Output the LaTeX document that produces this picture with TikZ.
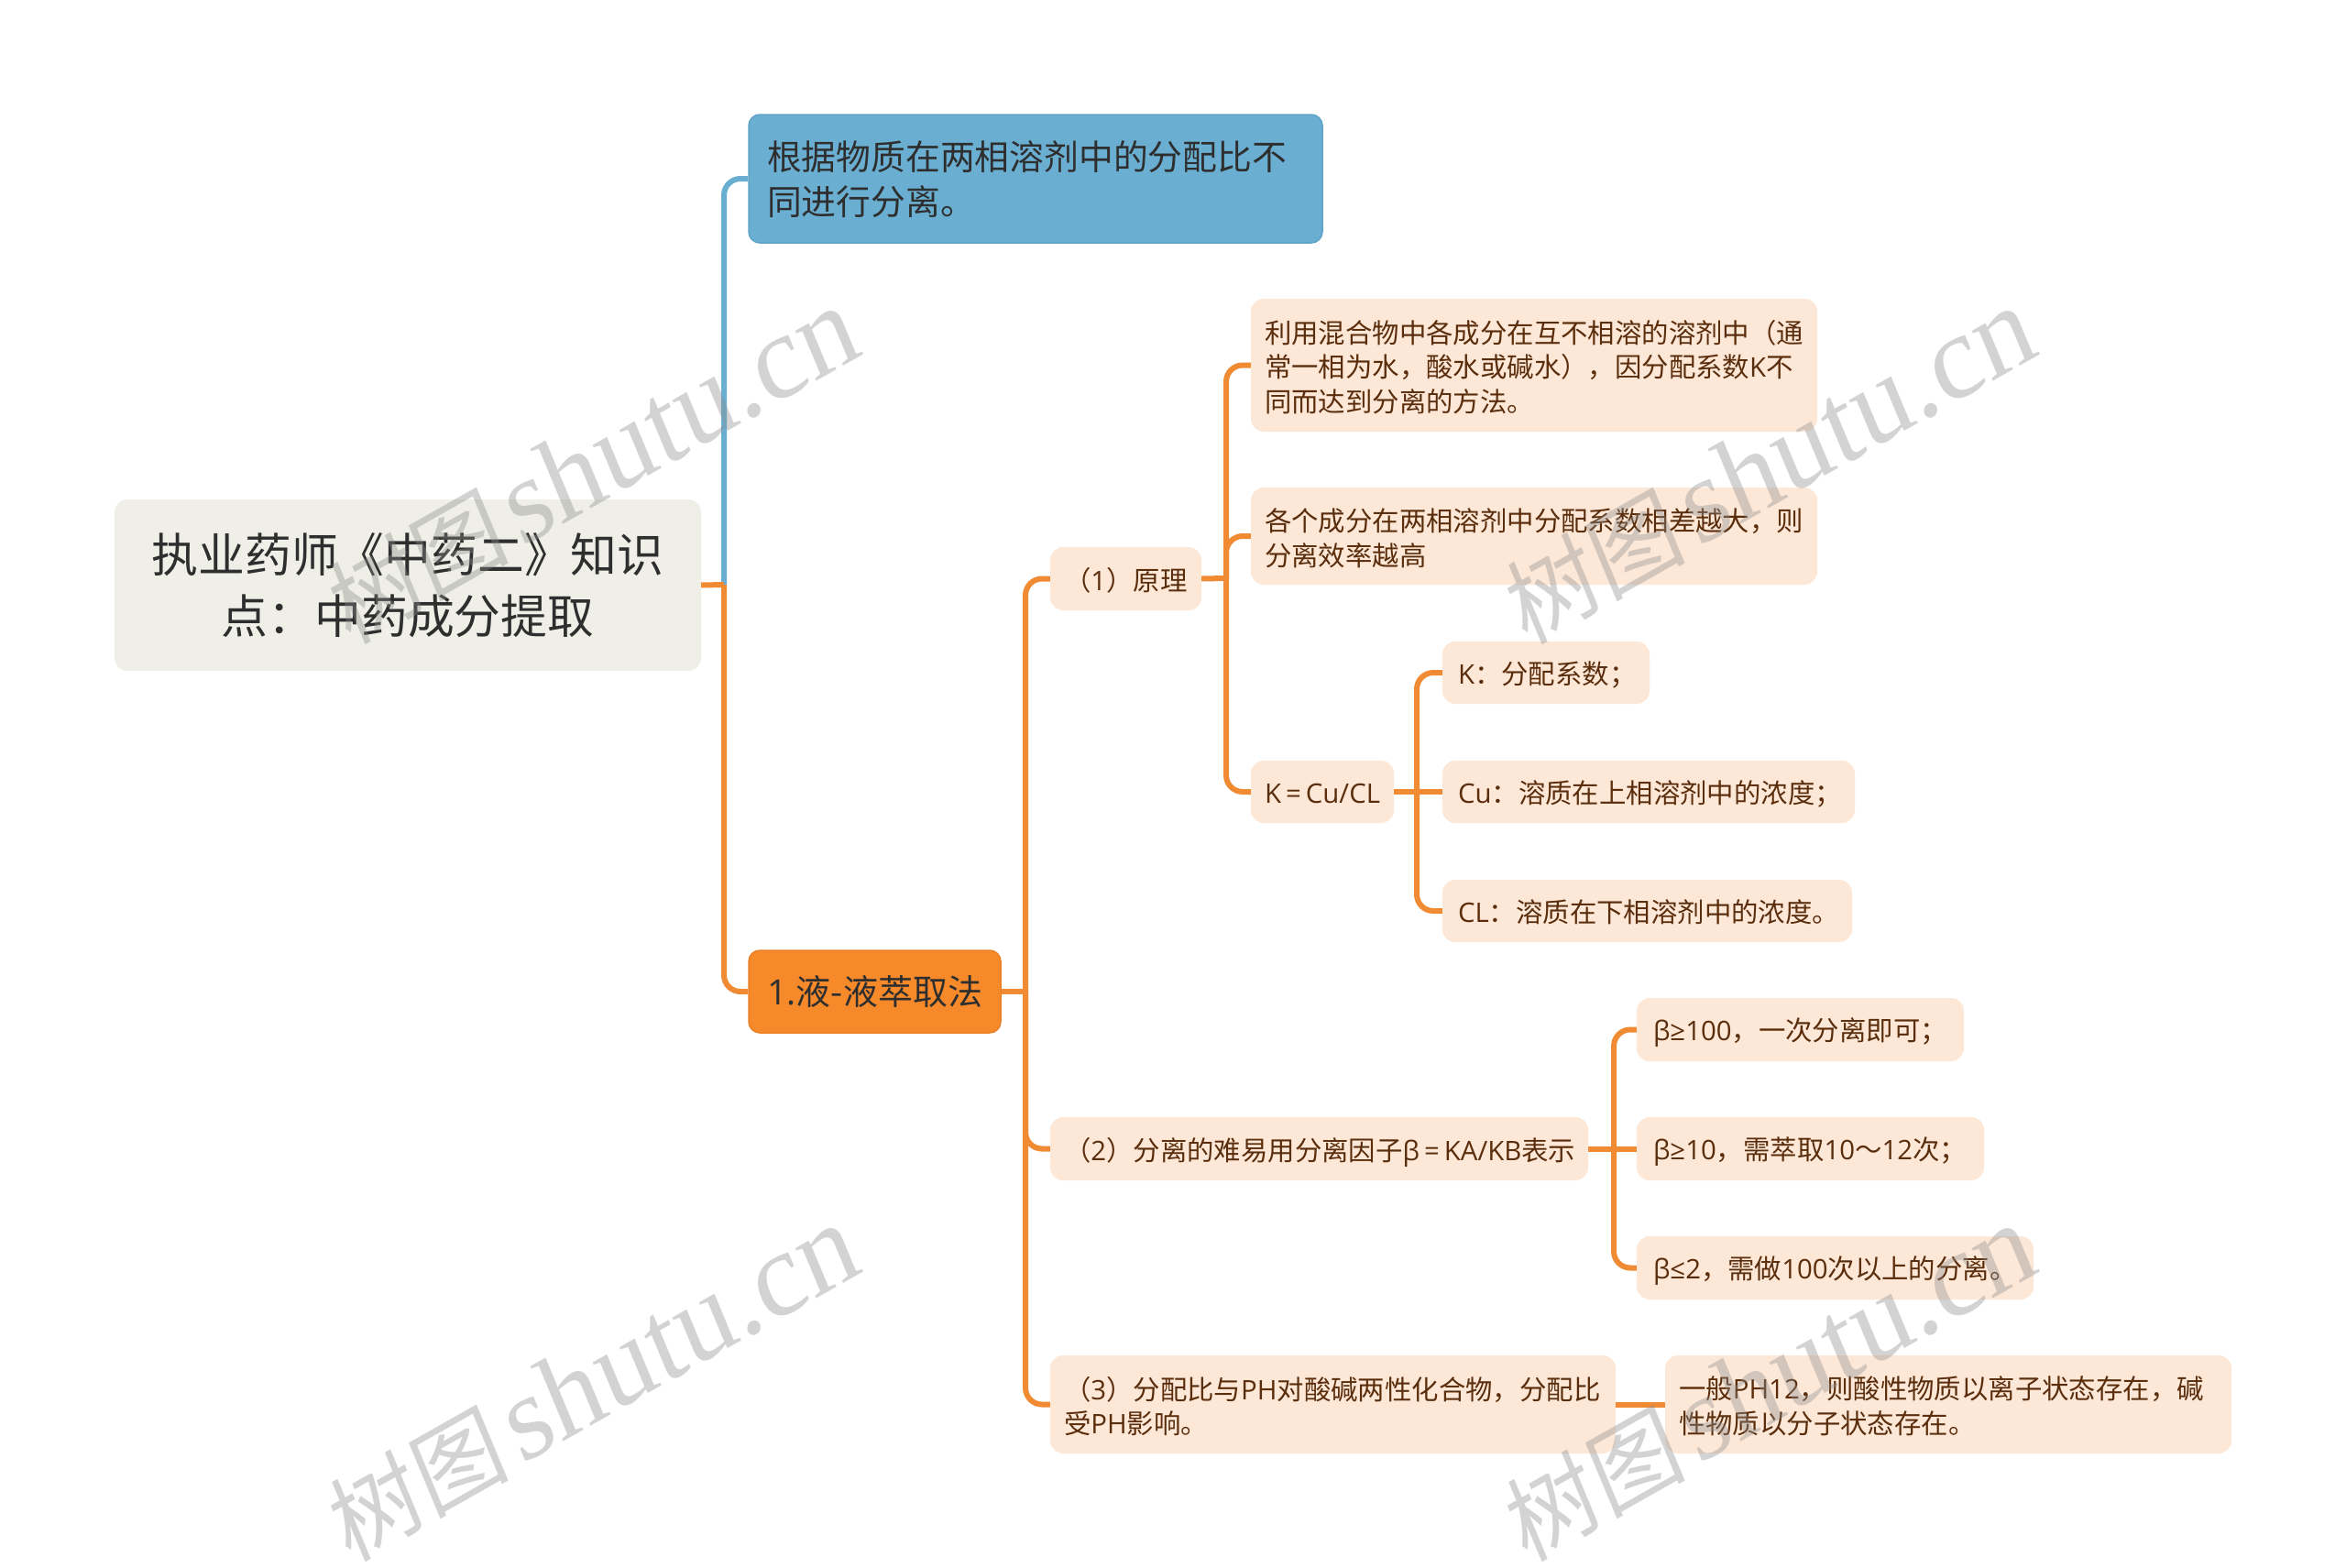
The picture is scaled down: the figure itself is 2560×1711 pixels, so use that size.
\documentclass[tikz,border=0pt]{standalone}
\usepackage{fontspec}
\setmainfont{Noto Sans CJK SC}
\newfontfamily\latfont{Open Sans}
\newfontfamily\wmlatin[FakeSlant=0.12]{Liberation Serif}
\newfontfamily\wmcjk[FakeSlant=0.12]{Noto Sans CJK SC}
\newcommand{\lat}[1]{\smash{\latfont #1}\vphantom{中}}
\newcommand{\eqs}{\kern5pt=\kern5pt}
\definecolor{conOrange}{HTML}{F08A33}
\definecolor{conBlue}{HTML}{6AAFD2}
\definecolor{fillBlue}{HTML}{6AAFD2}
\definecolor{edgeBlue}{HTML}{5FA3C8}
\definecolor{fillOrange}{HTML}{F68A2B}
\definecolor{edgeOrange}{HTML}{EC8026}
\definecolor{fillLeaf}{HTML}{FDE8D8}
\definecolor{fillRoot}{HTML}{EFEFE7}
\definecolor{textLeaf}{HTML}{5A2D0C}
\definecolor{textDark}{HTML}{2E2E2E}
\tikzset{
  boxbase/.style={rectangle,inner sep=0pt,align=left},
  rootbox/.style={boxbase,fill=fillRoot,rounded corners=14pt,text=textDark,align=center,
    font=\fontsize{50.8}{67}\selectfont},
  bluebox/.style={boxbase,fill=fillBlue,draw=edgeBlue,line width=1.5pt,rounded corners=12pt,text=textDark,
    font=\fontsize{37.8}{49}\selectfont},
  orangebox/.style={boxbase,fill=fillOrange,draw=edgeOrange,line width=1.5pt,rounded corners=12pt,text=textDark,
    font=\fontsize{38}{49}\selectfont},
  leafbox/.style={boxbase,fill=fillLeaf,rounded corners=14pt,text=textLeaf,
    font=\fontsize{29.4}{37.5}\selectfont},
  conn/.style={draw=conOrange,line width=6pt,rounded corners=18pt},
  connblue/.style={draw=conBlue,line width=6pt,rounded corners=18pt},
  stub/.style={draw=conOrange,line width=6pt},
  wmark/.style={text=black!45,opacity=.38,rotate=29.5,inner sep=0pt},
}
% #1 name, #2 x1, #3 y1, #4 x2, #5 y2, #6 style, #7 padding, #8 text drop, #9 text
\newcommand{\bx}[9]{%
  \pgfmathsetmacro{\bxw}{#4-#2}%
  \pgfmathsetmacro{\bxh}{#5-#3}%
  \pgfmathsetmacro{\bxt}{#4-#2-2*#7}%
  \pgfmathsetmacro{\bxcx}{(#2+#4)/2}%
  \pgfmathsetmacro{\bxcy}{(#3+#5)/2}%
  \node[#6,minimum width=\bxw pt,minimum height=\bxh pt,text width=\bxt pt] (#1) at (\bxcx,\bxcy) {#9\par\vspace*{-#8pt}};%
}
\newcommand{\wmtext}{{\wmcjk\fontsize{102}{102}\selectfont 树图}\hspace{12pt}{\wmlatin\fontsize{128}{128}\selectfont shutu.cn}}
\begin{document}
\begin{tikzpicture}[x=1pt,y=-1pt]
\useasboundingbox (0,0) rectangle (2560,1711);
\fill[white] (0,0) rectangle (2560,1711);

% connectors
\coordinate (tA) at (790,638);
\coordinate (tB) at (1119,1082);
\coordinate (tC) at (1338,631);
\coordinate (tD) at (1546,864);
\coordinate (tE) at (1761,1253);

\bx{root}{125}{545}{765}{732}{rootbox}{16}{0}{执业药师《中药二》知识\\点：中药成分提取}
\bx{blue}{817}{125}{1443}{265}{bluebox}{20}{1}{根据物质在两相溶剂中的分配比不\\同进行分离。}
\bx{main}{817}{1037}{1092}{1127}{orangebox}{20}{0}{\mbox{\lat{1.}液-液萃取法}}
\bx{yl}{1146}{597}{1311}{666}{leafbox}{15}{4}{（\lat{1}）原理}
\bx{pa}{1365}{326}{1983}{471}{leafbox}{15}{4}{利用混合物中各成分在互不相溶的溶剂中（通\\常一相为水，酸水或碱水），因分配系数\lat{K}不\\同而达到分离的方法。}
\bx{pb}{1365}{532}{1983}{638}{leafbox}{15}{4}{各个成分在两相溶剂中分配系数相差越大，则\\分离效率越高}
\bx{kf}{1365}{830}{1521}{898}{leafbox}{15}{4}{\mbox{\lat{K\eqs Cu/CL}}}
\bx{ka}{1574}{700}{1800}{768}{leafbox}{17}{4}{\lat{K}：分配系数；}
\bx{kb}{1574}{830}{2024}{898}{leafbox}{17}{4}{\lat{Cu}：溶质在上相溶剂中的浓度；}
\bx{kc}{1574}{960}{2021}{1028}{leafbox}{17}{4}{\lat{CL}：溶质在下相溶剂中的浓度。}
\bx{sep}{1146}{1219}{1733}{1288}{leafbox}{15}{4}{（\lat{2}）分离的难易用分离因子\lat{β\eqs KA/KB}表示}
\bx{ba}{1786}{1089}{2143}{1158}{leafbox}{18}{4}{\lat{β≥100}，一次分离即可；}
\bx{bb}{1786}{1219}{2165}{1288}{leafbox}{18}{4}{\lat{β≥10}，需萃取\lat{10}～\lat{12}次；}
\bx{bc}{1786}{1349}{2219}{1418}{leafbox}{18}{4}{\lat{β≤2}，需做\lat{100}次以上的分离。}
\bx{ph}{1146}{1479}{1763}{1586}{leafbox}{15}{4}{（\lat{3}）分配比与\lat{PH}对酸碱两性化合物，分配比\\受\lat{PH}影响。}
\bx{io}{1817}{1479}{2435}{1586}{leafbox}{15}{4}{一般\lat{PH12}，则酸性物质以离子状态存在，碱\\性物质以分子状态存在。}

\draw[connblue] (tA) |- (blue.west);
\draw[stub] (root.east) -- (tA);
\draw[conn] (tA) |- (main.west);

\draw[stub] (main.east) -- (tB);
\draw[conn] (tB) |- (yl.west);
\draw[conn] (tB) |- (sep.west);
\draw[conn] (tB) |- (ph.west);

\draw[stub] (yl.east) -- (tC);
\draw[conn] (tC) |- (pa.west);
\draw[conn] (tC) |- (pb.west);
\draw[conn] (tC) |- (kf.west);

\draw[stub] (kf.east) -- (kb.west);
\draw[conn] (tD) |- (ka.west);
\draw[conn] (tD) |- (kc.west);

\draw[stub] (sep.east) -- (bb.west);
\draw[conn] (tE) |- (ba.west);
\draw[conn] (tE) |- (bc.west);

\draw[stub] (ph.east) -- (io.west);

% watermark
\node[wmark] (w1) at (643,510) {\wmtext};
\node[wmark] (w2) at (1927,510) {\wmtext};
\node[wmark] (w3) at (643,1511) {\wmtext};
\node[wmark] (w4) at (1927,1511) {\wmtext};
\end{tikzpicture}
\end{document}
